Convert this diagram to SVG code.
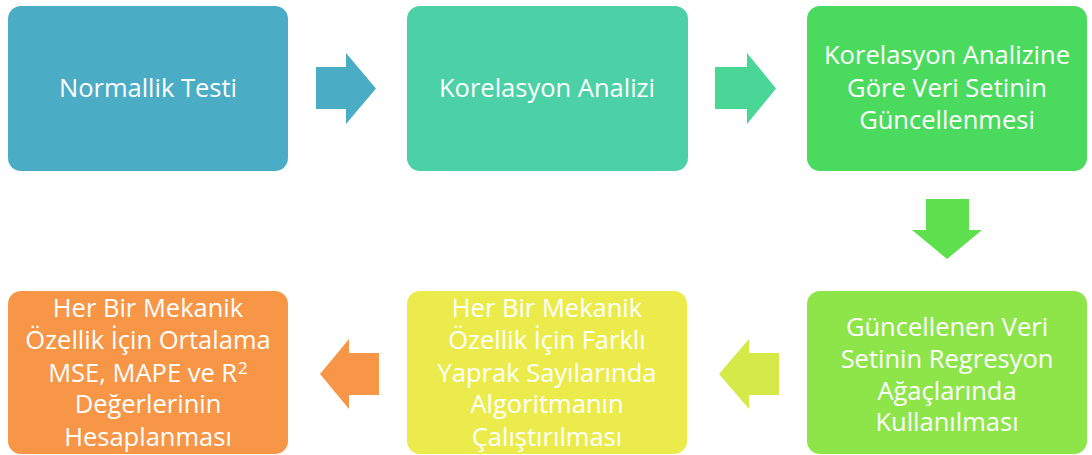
<svg xmlns="http://www.w3.org/2000/svg" width="1092" height="455" viewBox="0 0 1092 455">
  <style>
    .box { stroke: none; }
    .lbl { font-family: "Open Sans", "Noto Sans", "Liberation Sans", sans-serif; font-size: 25.5px; fill: #ffffff; text-anchor: middle; }
    .sup { font-size: 17px; }
  </style>
  <rect width="1092" height="455" fill="#ffffff"/>

  <g id="node-normallik">
    <rect class="box" x="8" y="6" width="280" height="165" rx="13" fill="#4BACC6"/>
    <text class="lbl" x="148" y="97">Normallik Testi</text>
  </g>

  <g id="node-korelasyon">
    <rect class="box" x="407" y="6" width="281" height="165" rx="13" fill="#4BD1A5"/>
    <text class="lbl" x="547" y="97">Korelasyon Analizi</text>
  </g>

  <g id="node-guncelleme">
    <rect class="box" x="807" y="6" width="280" height="165" rx="13" fill="#4ADB5E"/>
    <text class="lbl" x="947" y="64">Korelasyon Analizine</text>
    <text class="lbl" x="947" y="97">Göre Veri Setinin</text>
    <text class="lbl" x="947" y="129">Güncellenmesi</text>
  </g>

  <g id="node-regresyon">
    <rect class="box" x="807" y="291" width="280" height="163" rx="13" fill="#8DE54A"/>
    <text class="lbl" x="947" y="336">Güncellenen Veri</text>
    <text class="lbl" x="947" y="368">Setinin Regresyon</text>
    <text class="lbl" x="947" y="400">Ağaçlarında</text>
    <text class="lbl" x="947" y="431">Kullanılması</text>
  </g>

  <g id="node-yaprak">
    <rect class="box" x="407" y="291" width="280" height="163" rx="13" fill="#EBEC4B"/>
    <text class="lbl" x="547" y="317">Her Bir Mekanik</text>
    <text class="lbl" x="547" y="349">Özellik İçin Farklı</text>
    <text class="lbl" x="547" y="382">Yaprak Sayılarında</text>
    <text class="lbl" x="547" y="413">Algoritmanın</text>
    <text class="lbl" x="547" y="446">Çalıştırılması</text>
  </g>

  <g id="node-ortalama">
    <rect class="box" x="8" y="291" width="280" height="163" rx="13" fill="#F79646"/>
    <text class="lbl" x="148" y="317">Her Bir Mekanik</text>
    <text class="lbl" x="148" y="349">Özellik İçin Ortalama</text>
    <text class="lbl" x="148" y="382">MSE, MAPE ve R<tspan class="sup" dx="1" dy="-8">2</tspan></text>
    <text class="lbl" x="148" y="413">Değerlerinin</text>
    <text class="lbl" x="148" y="446">Hesaplanması</text>
  </g>

  <g id="connectors">
    <polygon points="316,67 346,67 346,53 376,88.5 346,124 346,109 316,109" fill="#4BACC6"/>
    <polygon points="715,67 747,67 747,53 776,88.5 747,124 747,109 715,109" fill="#4AD696"/>
    <polygon points="926,199 969,199 969,230 982,230 947,259 912,230 926,230" fill="#5EE04E"/>
    <polygon points="779,353 749,353 749,339 719,374 749,409 749,395 779,395" fill="#D5EA48"/>
    <polygon points="379,353 349,353 349,339 320,374 349,409 349,395 379,395" fill="#F79646"/>
  </g>
</svg>
